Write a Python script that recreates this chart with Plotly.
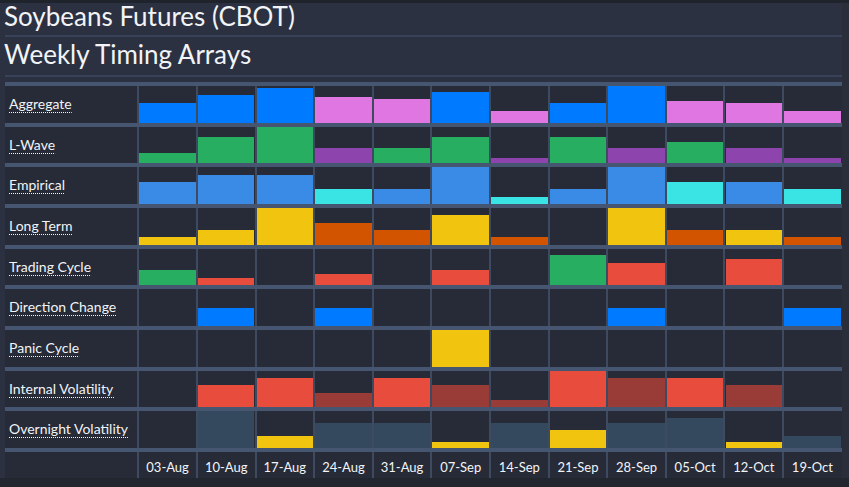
import json
import plotly.graph_objects as go

# ---------------- data ----------------
weeks = ["03-Aug", "10-Aug", "17-Aug", "24-Aug", "31-Aug", "07-Sep",
         "14-Sep", "21-Sep", "28-Sep", "05-Oct", "12-Oct", "19-Oct"]

rows = ["Aggregate", "L-Wave", "Empirical", "Long Term", "Trading Cycle",
        "Direction Change", "Panic Cycle", "Internal Volatility", "Overnight Volatility"]

# bar strength in % of the cell height
aggregate = [54, 76, 95, 70, 65, 84, 32, 54, 100, 59, 54, 32]
l_wave = [29, 71, 100, 43, 43, 71, 14, 71, 43, 57, 43, 14]
empirical = [60, 80, 80, 40, 40, 100, 20, 40, 100, 60, 60, 40]
long_term = [20, 40, 100, 60, 40, 80, 20, 0, 100, 40, 40, 20]
trading_cycle = [43, 19, 0, 30, 0, 43, 0, 84, 60, 0, 73, 0]
direction_change = [0, 50, 0, 50, 0, 0, 0, 0, 50, 0, 0, 50]
panic_cycle = [0, 0, 0, 0, 0, 100, 0, 0, 0, 0, 0, 0]
internal_vol = [0, 60, 80, 40, 80, 60, 20, 100, 80, 80, 60, 0]
overnight_vol = [0, 100, 33, 67, 67, 17, 67, 50, 67, 83, 17, 33]

# colour codes per cell
aggregate_c = list("BBBPPBPBBPPP")
l_wave_c = list("GGGVGGVGVGVV")
empirical_c = list("EEECEECEECEC")
long_term_c = list("YYYOOYO-YOYO")
trading_cycle_c = list("GR-R-R-GR-R-")
direction_change_c = list("BBBBBBBBBBBB")
panic_cycle_c = list("YYYYYYYYYYYY")
internal_vol_c = list("-RRDRDDRDRD-")
overnight_vol_c = list("-SYSSYSYSSYS")

values = [aggregate, l_wave, empirical, long_term, trading_cycle,
          direction_change, panic_cycle, internal_vol, overnight_vol]
codes = [aggregate_c, l_wave_c, empirical_c, long_term_c, trading_cycle_c,
         direction_change_c, panic_cycle_c, internal_vol_c, overnight_vol_c]

palette = {
    "B": "#007bff", "P": "#e076e2", "G": "#27ae60", "V": "#8e44ad",
    "E": "#3a8be6", "C": "#3be4e4", "Y": "#f1c40f", "O": "#d35400",
    "R": "#e74c3c", "D": "#993b36", "S": "#34495e", "-": "rgba(0,0,0,0)",
}

# ---------------- style ----------------
PAGE_BG = "#2b3141"
CELL_BG = "#262b37"
BAND = "#465570"
VLINE = "#3d4a60"
TEXT = "#f2f4f7"
FONT = "Lato"

W, H = 849, 487
PLOT_L, PLOT_R = 5, 842
PLOT_T, PLOT_B = 82, 478
PITCH = 40.67           # px per row
COLW = 58.62            # px per column
BAND_HALF = 2 / PITCH
CELL_H = 1 - 2 * BAND_HALF
n_rows = len(rows)

x_left = -0.5 - (138.3 - PLOT_L) / COLW
x_right = len(weeks) - 0.5 + (PLOT_R - 841.7) / COLW
y_top = n_rows + (84 - PLOT_T) / PITCH
y_bot = -(PLOT_B - 450) / PITCH

fig = go.Figure()
xs = list(range(len(weeks)))
for i, (vals, cc) in enumerate(zip(values, codes)):
    base = (n_rows - 1 - i) + BAND_HALF
    fig.add_trace(go.Bar(
        x=xs,
        y=[v / 100 * CELL_H for v in vals],
        base=base,
        width=1 - 2.2 / COLW,
        marker=dict(color=[palette[c] for c in cc], line=dict(width=0)),
        hoverinfo="skip",
        showlegend=False,
    ))

annotations = []
for i, name in enumerate(rows):
    yc = (n_rows - 1 - i) + 0.5
    annotations.append(dict(
        xref="paper", yref="y", x=0, y=yc, xshift=2, yshift=1,
        xanchor="left", yanchor="middle", showarrow=False,
        text=name,
        font=dict(family=FONT, size=14, color=TEXT),
    ))

annotations += [
    dict(xref="paper", yref="paper", x=0, y=1, xshift=-3,
         yshift=(PLOT_T - 16), xanchor="left", yanchor="middle",
         showarrow=False, text="Soybeans Futures (CBOT)",
         font=dict(family=FONT, size=26, color=TEXT)),
    dict(xref="paper", yref="paper", x=0, y=1, xshift=-3,
         yshift=(PLOT_T - 54), xanchor="left", yanchor="middle",
         showarrow=False, text="Weekly Timing Arrays",
         font=dict(family=FONT, size=26, color=TEXT)),
]

pw = PLOT_R - PLOT_L
ph = PLOT_B - PLOT_T


def px_x(p):
    return (p - PLOT_L) / pw


def px_y(p):
    return 1 - (p - PLOT_T) / ph


shapes = [
    # separator lines under the titles
    dict(type="line", xref="paper", yref="paper", x0=0, x1=1,
         y0=px_y(36), y1=px_y(36), line=dict(color=BAND, width=1.2)),
    dict(type="line", xref="paper", yref="paper", x0=0, x1=1,
         y0=px_y(76), y1=px_y(76), line=dict(color=BAND, width=1.2)),
    # page edge strips
    dict(type="rect", xref="paper", yref="paper", x0=px_x(-5), x1=px_x(W + 5),
         y0=px_y(H + 5), y1=px_y(478), fillcolor="#22262f", line=dict(width=0), layer="below"),
    dict(type="rect", xref="paper", yref="paper", x0=px_x(-5), x1=px_x(W + 5),
         y0=px_y(3), y1=px_y(-5), fillcolor="#1f232b", line=dict(width=0), layer="below"),
    dict(type="rect", xref="paper", yref="paper", x0=px_x(842), x1=px_x(W + 5),
         y0=px_y(478), y1=px_y(3), fillcolor="#292e3a", line=dict(width=0), layer="below"),
]

fig.update_layout(
    width=W, height=H,
    margin=dict(l=PLOT_L, r=W - PLOT_R, t=PLOT_T, b=H - PLOT_B, pad=0),
    paper_bgcolor=PAGE_BG, plot_bgcolor=CELL_BG,
    barmode="overlay", bargap=0,
    annotations=annotations, shapes=shapes,
    font=dict(family=FONT, color=TEXT),
    xaxis=dict(
        range=[x_left, x_right], fixedrange=True,
        tickmode="array", tickvals=xs, ticktext=weeks,
        ticklabelposition="inside", ticks="",
        tickfont=dict(family=FONT, size=13, color=TEXT),
        showgrid=False, zeroline=False, showline=False,
        minor=dict(tickmode="array",
                   tickvals=[k - 0.5 for k in range(len(weeks) + 1)],
                   showgrid=True, gridcolor=VLINE, gridwidth=1.6, ticks=""),
    ),
    yaxis=dict(
        range=[y_bot, y_top], fixedrange=True,
        tickmode="array", tickvals=list(range(n_rows + 1)),
        showticklabels=False, ticks="",
        showgrid=True, gridcolor=BAND, gridwidth=4,
        zeroline=False, showline=False,
    ),
)

# remove the page margin and add dotted underlines measured from the real label text
post = """
document.body.style.margin='0';
document.body.style.overflow='hidden';
document.documentElement.style.background='#22262f';
var gd=document.getElementById('{plot_id}');
var names=%s;
gd.querySelectorAll('text.annotation-text').forEach(function(t){
  if(names.indexOf(t.textContent)<0) return;
  var b=t.getBBox();
  var ns='http://www.w3.org/2000/svg';
  var l=document.createElementNS(ns,'line');
  var y=Math.round(b.y+b.height)+0.5;
  l.setAttribute('x1',b.x); l.setAttribute('x2',b.x+b.width);
  l.setAttribute('y1',y); l.setAttribute('y2',y);
  l.setAttribute('stroke','%s'); l.setAttribute('stroke-width','1');
  l.setAttribute('stroke-dasharray','1,1');
  t.parentNode.appendChild(l);
});
""" % (json.dumps(rows), TEXT)

fig.write_html("out.html", post_script=post, config={"displayModeBar": False})
